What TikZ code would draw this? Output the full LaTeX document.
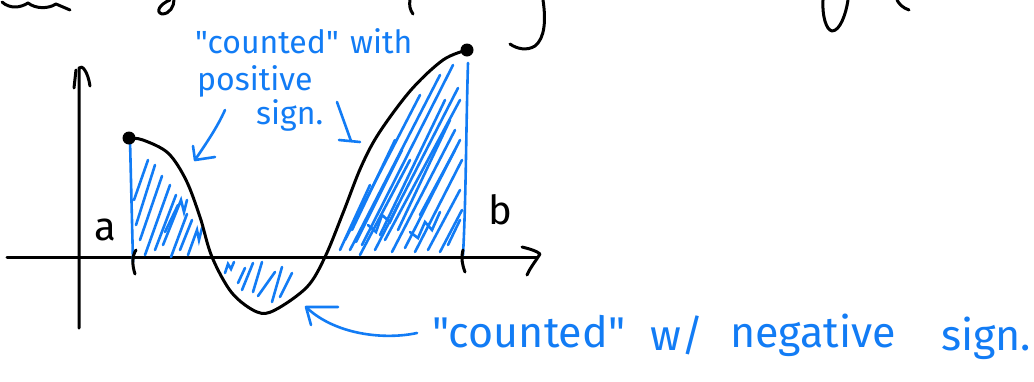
\documentclass[tikz,border=0pt]{standalone}
\usepackage{fontspec}
\newfontfamily\handfont{Fira Sans}
\definecolor{inkblue}{RGB}{18,124,245}
\begin{document}
\begin{tikzpicture}[x=1pt,y=-1pt,
  ink/.style={line width=3pt,line cap=round,line join=round,black},
  bink/.style={line width=2.6pt,line cap=round,line join=round,inkblue},
  hatch/.style={line width=2.6pt,line cap=round,inkblue},
  btext/.style={text=inkblue,inner sep=0pt,anchor=base west,font=\handfont\fontsize{32}{32}\selectfont},
  ctext/.style={text=inkblue,inner sep=0pt,anchor=base west,font=\handfont\fontsize{43}{43}\selectfont},
  ktext/.style={text=black,inner sep=0pt,anchor=base west,font=\handfont\fontsize{40}{40}\selectfont}]
\useasboundingbox (0,0) rectangle (1034,381);
\fill[white] (0,0) rectangle (1034,381);

% cropped handwriting fragments at the top edge
\draw[ink] (2,2) .. controls (10,9) and (20,8) .. (28,3) .. controls (36,9) and (48,9) .. (56,4) -- (70,10);
\draw[ink] (170,0) .. controls (160,4) and (155,12) .. (162,14) .. controls (170,14) and (174,6) .. (174,0);
\draw[ink] (410,0) .. controls (409,5) and (410,10) .. (413,14);
\draw[ink] (543,0) .. controls (546,20) and (545,38) .. (535,46) .. controls (527,51) and (517,49) .. (510,44);
\draw[ink] (823,0) .. controls (822,15) and (826,30) .. (832,31) .. controls (840,31) and (846,14) .. (848,0);
\draw[ink] (897,0) .. controls (899,4) and (903,8) .. (909,10);

% axes
\coordinate (ytop) at (79,68);
\coordinate (ybot) at (79,328);
\coordinate (xl) at (7,257);
\coordinate (xr) at (537,257);
\draw[ink] (ybot) -- (ytop) .. controls (82,64) and (88,72) .. (90,86);
\draw[ink] (74,88) -- (76,70);
\draw[ink] (xl) -- (xr);
\draw[ink] (522,247) .. controls (530,249) and (537,251) .. (540,254) .. controls (535,262) and (530,268) .. (527,275);

% hatching, left positive part
\draw[hatch] (134,200) -- (148,160);
\draw[hatch] (136,225) -- (155,165);
\draw[hatch] (140,240) -- (162,176);
\draw[hatch] (145,255) -- (170,185);
\draw[hatch] (155,250) -- (176,195);
\draw[hatch] (163,245) -- (181,200) -- (184,212) -- (187,200);
\draw[hatch] (171,257) -- (187,214);
\draw[hatch] (180,250) -- (192,220);
\draw[hatch] (188,255) -- (197,230) -- (199,240) -- (202,228);
\draw[hatch] (165,232) -- (178,205);
% hatching, negative part
\draw[hatch] (225,273) -- (228,264) -- (231,269) -- (234,262);
\draw[hatch] (238,283) -- (245,268);
\draw[hatch] (242,290) -- (253,263);
\draw[hatch] (253,292) -- (262,262);
\draw[hatch] (258,296) -- (275,272);
\draw[hatch] (272,302) -- (282,267);
\draw[hatch] (280,297) -- (292,273);
% hatching, right positive part
\draw[hatch] (345,240) -- (420,95);
\draw[hatch] (350,250) -- (440,75);
\draw[hatch] (362,245) -- (453,65);
\draw[hatch] (375,250) -- (458,88);
\draw[hatch] (385,240) -- (460,100);
\draw[hatch] (392,252) -- (455,130);
\draw[hatch] (405,248) -- (460,140);
\draw[hatch] (415,252) -- (462,160);
\draw[hatch] (428,250) -- (460,190);
\draw[hatch] (440,252) -- (462,210);
\draw[hatch] (352,230) -- (395,140);
\draw[hatch] (340,250) -- (370,185);
\draw[hatch] (360,255) -- (410,160);
\draw[hatch] (398,230) -- (450,120);
\draw[hatch] (420,215) -- (455,150);
\draw[hatch] (448,245) -- (460,220);
\draw[hatch] (356,242) -- (402,150);
\draw[hatch] (380,235) -- (445,100);
\draw[hatch] (368,225) -- (376,232) -- (382,215) -- (390,222) -- (398,205);
\draw[hatch] (410,232) -- (418,238) -- (425,222) -- (432,230) -- (440,212);
% vertical bounds
\draw[bink] (130,140) -- (133,262);
\draw[bink] (468,63) .. controls (466,130) and (466,200) .. (463,255);

% the graph
\coordinate (pa) at (129,138);
\coordinate (pb) at (467,50);
\draw[ink] plot[smooth,tension=0.55] coordinates {(129,138) (143,140) (168,153) (186,180) (200,217) (212,257) (232,293) (257,312) (275,310) (307,287) (325,257) (343,213) (361,167) (379,133) (411,90) (443,60) (467,50)};
\fill (pa) circle (6.5);
\fill (pb) circle (6.5);

% ticks at a and b
\draw[ink] (136,250) .. controls (132,256) and (132,265) .. (135,274);
\draw[ink] (463,250) .. controls (461,258) and (462,264) .. (465,272);

% labels a and b
\node[ktext] (la) at (94,240) {a};
\node[ktext] (lb) at (488,224) {b};

% annotations
\node[btext] (t1) at (195,53) {"counted"};
\node[btext] (t2) at (350,53) {with};
\node[btext] (t3) at (197,90) {positive};
\node[btext] (t4) at (256,124) {sign.};
\coordinate (al0) at (225,110);
\coordinate (al1) at (195,160);
\draw[bink] (al0) .. controls (217,128) and (205,145) .. (al1);
\draw[bink] (193,146) -- (al1) -- (215,157);
\coordinate (ar0) at (337,102);
\coordinate (ar1) at (351,141);
\draw[bink] (ar0) -- (ar1);
\draw[bink] (339,140) -- (360,142);

\node[ctext] (n1) at (432,347) {"counted"};
\node[ctext] (n2) at (650,350) {w/};
\node[ctext] (n3) at (730,347) {negative};
\node[ctext] (n4) at (941,350) {sign.};
\coordinate (ab0) at (417,333);
\coordinate (ab1) at (306,307);
\draw[bink] (ab0) .. controls (385,340) and (335,335) .. (ab1);
\draw[bink] (338,307) -- (ab1) -- (311,325);
\end{tikzpicture}
\end{document}
